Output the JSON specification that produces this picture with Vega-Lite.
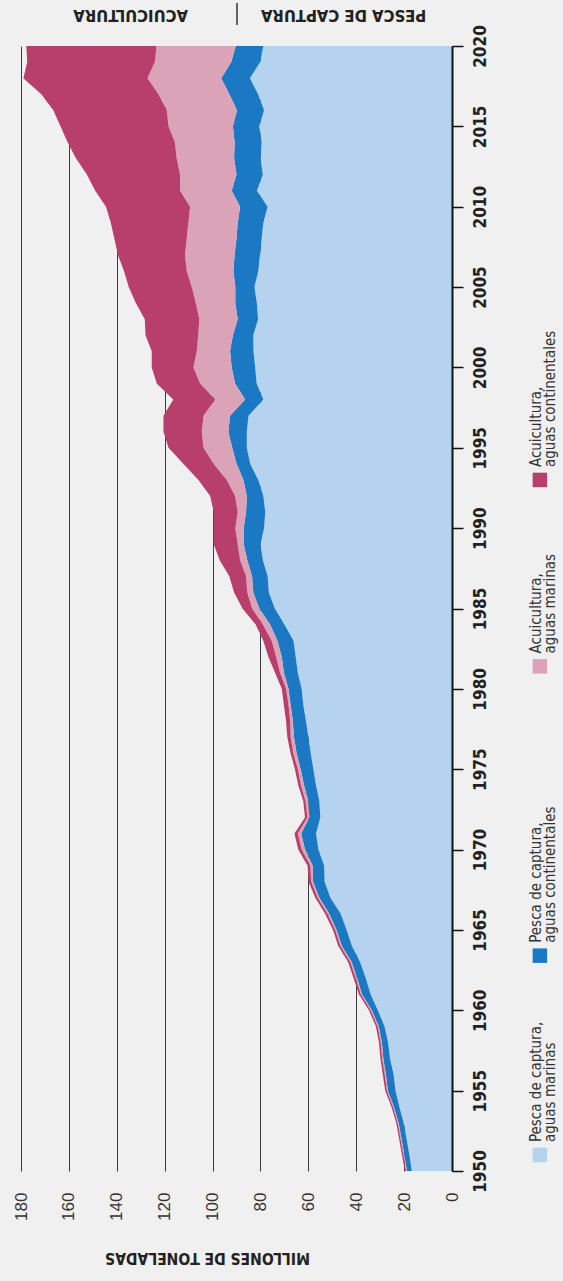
{
  "$schema": "https://vega.github.io/schema/vega-lite/v6.json",
  "width": 431,
  "height": 1125,
  "autosize": {"type": "none"},
  "padding": {"left": 21, "top": 46, "right": 111, "bottom": 110},
  "background": "#f0f0f0",
  "config": {"view": {"stroke": null}, "font": "DejaVu Sans Condensed, sans-serif"},
  "datasets": {
    "prod": [
      {"yr":1950,"s":"s1","v":16.8},{"yr":1950,"s":"s2","v":2.0},{"yr":1950,"s":"s3","v":0.4},{"yr":1950,"s":"s4","v":0.5},
      {"yr":1951,"s":"s1","v":17.8},{"yr":1951,"s":"s2","v":2.1},{"yr":1951,"s":"s3","v":0.4},{"yr":1951,"s":"s4","v":0.6},
      {"yr":1952,"s":"s1","v":19.0},{"yr":1952,"s":"s2","v":2.1},{"yr":1952,"s":"s3","v":0.4},{"yr":1952,"s":"s4","v":0.6},
      {"yr":1953,"s":"s1","v":20.2},{"yr":1953,"s":"s2","v":2.1},{"yr":1953,"s":"s3","v":0.4},{"yr":1953,"s":"s4","v":0.6},
      {"yr":1954,"s":"s1","v":22.0},{"yr":1954,"s":"s2","v":2.3},{"yr":1954,"s":"s3","v":0.4},{"yr":1954,"s":"s4","v":0.6},
      {"yr":1955,"s":"s1","v":23.6},{"yr":1955,"s":"s2","v":3.2},{"yr":1955,"s":"s3","v":0.4},{"yr":1955,"s":"s4","v":0.7},
      {"yr":1956,"s":"s1","v":24.4},{"yr":1956,"s":"s2","v":3.2},{"yr":1956,"s":"s3","v":0.5},{"yr":1956,"s":"s4","v":0.8},
      {"yr":1957,"s":"s1","v":25.9},{"yr":1957,"s":"s2","v":2.8},{"yr":1957,"s":"s3","v":0.5},{"yr":1957,"s":"s4","v":0.7},
      {"yr":1958,"s":"s1","v":26.7},{"yr":1958,"s":"s2","v":2.6},{"yr":1958,"s":"s3","v":0.5},{"yr":1958,"s":"s4","v":0.7},
      {"yr":1959,"s":"s1","v":28.2},{"yr":1959,"s":"s2","v":2.4},{"yr":1959,"s":"s3","v":0.5},{"yr":1959,"s":"s4","v":0.7},
      {"yr":1960,"s":"s1","v":31.0},{"yr":1960,"s":"s2","v":2.5},{"yr":1960,"s":"s3","v":0.5},{"yr":1960,"s":"s4","v":0.7},
      {"yr":1961,"s":"s1","v":34.0},{"yr":1961,"s":"s2","v":3.6},{"yr":1961,"s":"s3","v":0.5},{"yr":1961,"s":"s4","v":0.8},
      {"yr":1962,"s":"s1","v":36.0},{"yr":1962,"s":"s2","v":3.6},{"yr":1962,"s":"s3","v":0.6},{"yr":1962,"s":"s4","v":0.9},
      {"yr":1963,"s":"s1","v":38.4},{"yr":1963,"s":"s2","v":3.5},{"yr":1963,"s":"s3","v":0.6},{"yr":1963,"s":"s4","v":0.9},
      {"yr":1964,"s":"s1","v":41.8},{"yr":1964,"s":"s2","v":4.2},{"yr":1964,"s":"s3","v":0.6},{"yr":1964,"s":"s4","v":0.9},
      {"yr":1965,"s":"s1","v":44.0},{"yr":1965,"s":"s2","v":4.2},{"yr":1965,"s":"s3","v":0.6},{"yr":1965,"s":"s4","v":0.9},
      {"yr":1966,"s":"s1","v":46.5},{"yr":1966,"s":"s2","v":4.8},{"yr":1966,"s":"s3","v":0.7},{"yr":1966,"s":"s4","v":1.0},
      {"yr":1967,"s":"s1","v":50.8},{"yr":1967,"s":"s2","v":4.6},{"yr":1967,"s":"s3","v":0.7},{"yr":1967,"s":"s4","v":1.0},
      {"yr":1968,"s":"s1","v":53.2},{"yr":1968,"s":"s2","v":4.8},{"yr":1968,"s":"s3","v":0.8},{"yr":1968,"s":"s4","v":1.1},
      {"yr":1969,"s":"s1","v":53.4},{"yr":1969,"s":"s2","v":4.8},{"yr":1969,"s":"s3","v":1.0},{"yr":1969,"s":"s4","v":1.1},
      {"yr":1970,"s":"s1","v":55.8},{"yr":1970,"s":"s2","v":5.6},{"yr":1970,"s":"s3","v":1.4},{"yr":1970,"s":"s4","v":1.4},
      {"yr":1971,"s":"s1","v":56.8},{"yr":1971,"s":"s2","v":6.2},{"yr":1971,"s":"s3","v":1.4},{"yr":1971,"s":"s4","v":1.4},
      {"yr":1972,"s":"s1","v":55.0},{"yr":1972,"s":"s2","v":4.6},{"yr":1972,"s":"s3","v":0.8},{"yr":1972,"s":"s4","v":1.0},
      {"yr":1973,"s":"s1","v":55.4},{"yr":1973,"s":"s2","v":4.6},{"yr":1973,"s":"s3","v":1.2},{"yr":1973,"s":"s4","v":0.9},
      {"yr":1974,"s":"s1","v":56.8},{"yr":1974,"s":"s2","v":5.0},{"yr":1974,"s":"s3","v":1.3},{"yr":1974,"s":"s4","v":1.1},
      {"yr":1975,"s":"s1","v":57.9},{"yr":1975,"s":"s2","v":5.3},{"yr":1975,"s":"s3","v":1.2},{"yr":1975,"s":"s4","v":1.2},
      {"yr":1976,"s":"s1","v":59.0},{"yr":1976,"s":"s2","v":5.9},{"yr":1976,"s":"s3","v":1.4},{"yr":1976,"s":"s4","v":1.1},
      {"yr":1977,"s":"s1","v":60.0},{"yr":1977,"s":"s2","v":6.0},{"yr":1977,"s":"s3","v":1.4},{"yr":1977,"s":"s4","v":1.4},
      {"yr":1978,"s":"s1","v":61.0},{"yr":1978,"s":"s2","v":5.5},{"yr":1978,"s":"s3","v":1.1},{"yr":1978,"s":"s4","v":1.7},
      {"yr":1979,"s":"s1","v":62.1},{"yr":1979,"s":"s2","v":5.3},{"yr":1979,"s":"s3","v":0.9},{"yr":1979,"s":"s4","v":1.9},
      {"yr":1980,"s":"s1","v":62.8},{"yr":1980,"s":"s2","v":5.5},{"yr":1980,"s":"s3","v":1.0},{"yr":1980,"s":"s4","v":1.8},
      {"yr":1981,"s":"s1","v":64.4},{"yr":1981,"s":"s2","v":5.8},{"yr":1981,"s":"s3","v":1.6},{"yr":1981,"s":"s4","v":2.1},
      {"yr":1982,"s":"s1","v":65.3},{"yr":1982,"s":"s2","v":5.8},{"yr":1982,"s":"s3","v":2.4},{"yr":1982,"s":"s4","v":3.2},
      {"yr":1983,"s":"s1","v":66.2},{"yr":1983,"s":"s2","v":6.7},{"yr":1983,"s":"s3","v":2.4},{"yr":1983,"s":"s4","v":3.5},
      {"yr":1984,"s":"s1","v":70.0},{"yr":1984,"s":"s2","v":6.0},{"yr":1984,"s":"s3","v":3.0},{"yr":1984,"s":"s4","v":3.0},
      {"yr":1985,"s":"s1","v":74.0},{"yr":1985,"s":"s2","v":6.5},{"yr":1985,"s":"s3","v":3.0},{"yr":1985,"s":"s4","v":4.0},
      {"yr":1986,"s":"s1","v":76.5},{"yr":1986,"s":"s2","v":6.5},{"yr":1986,"s":"s3","v":2.5},{"yr":1986,"s":"s4","v":5.5},
      {"yr":1987,"s":"s1","v":77.0},{"yr":1987,"s":"s2","v":6.5},{"yr":1987,"s":"s3","v":2.5},{"yr":1987,"s":"s4","v":7.0},
      {"yr":1988,"s":"s1","v":79.0},{"yr":1988,"s":"s2","v":6.5},{"yr":1988,"s":"s3","v":3.0},{"yr":1988,"s":"s4","v":8.5},
      {"yr":1989,"s":"s1","v":80.0},{"yr":1989,"s":"s2","v":7.0},{"yr":1989,"s":"s3","v":2.5},{"yr":1989,"s":"s4","v":10.0},
      {"yr":1990,"s":"s1","v":78.5},{"yr":1990,"s":"s2","v":8.5},{"yr":1990,"s":"s3","v":3.5},{"yr":1990,"s":"s4","v":9.0},
      {"yr":1991,"s":"s1","v":78.0},{"yr":1991,"s":"s2","v":8.0},{"yr":1991,"s":"s3","v":3.5},{"yr":1991,"s":"s4","v":10.0},
      {"yr":1992,"s":"s1","v":78.8},{"yr":1992,"s":"s2","v":6.9},{"yr":1992,"s":"s3","v":4.9},{"yr":1992,"s":"s4","v":10.4},
      {"yr":1993,"s":"s1","v":80.9},{"yr":1993,"s":"s2","v":6.2},{"yr":1993,"s":"s3","v":7.0},{"yr":1993,"s":"s4","v":11.8},
      {"yr":1994,"s":"s1","v":84.3},{"yr":1994,"s":"s2","v":5.7},{"yr":1994,"s":"s3","v":9.6},{"yr":1994,"s":"s4","v":12.6},
      {"yr":1995,"s":"s1","v":85.7},{"yr":1995,"s":"s2","v":6.1},{"yr":1995,"s":"s3","v":12.0},{"yr":1995,"s":"s4","v":14.6},
      {"yr":1996,"s":"s1","v":85.7},{"yr":1996,"s":"s2","v":7.7},{"yr":1996,"s":"s3","v":11.1},{"yr":1996,"s":"s4","v":16.0},
      {"yr":1997,"s":"s1","v":85.0},{"yr":1997,"s":"s2","v":7.7},{"yr":1997,"s":"s3","v":11.1},{"yr":1997,"s":"s4","v":16.7},
      {"yr":1998,"s":"s1","v":78.8},{"yr":1998,"s":"s2","v":7.6},{"yr":1998,"s":"s3","v":12.5},{"yr":1998,"s":"s4","v":17.5},
      {"yr":1999,"s":"s1","v":81.6},{"yr":1999,"s":"s2","v":9.0},{"yr":1999,"s":"s3","v":14.6},{"yr":1999,"s":"s4","v":18.1},
      {"yr":2000,"s":"s1","v":82.2},{"yr":2000,"s":"s2","v":9.8},{"yr":2000,"s":"s3","v":16.0},{"yr":2000,"s":"s4","v":17.4},
      {"yr":2001,"s":"s1","v":82.9},{"yr":2001,"s":"s2","v":9.8},{"yr":2001,"s":"s3","v":13.9},{"yr":2001,"s":"s4","v":18.8},
      {"yr":2002,"s":"s1","v":83.0},{"yr":2002,"s":"s2","v":8.5},{"yr":2002,"s":"s3","v":14.5},{"yr":2002,"s":"s4","v":22.0},
      {"yr":2003,"s":"s1","v":81.0},{"yr":2003,"s":"s2","v":8.5},{"yr":2003,"s":"s3","v":16.0},{"yr":2003,"s":"s4","v":22.8},
      {"yr":2004,"s":"s1","v":81.5},{"yr":2004,"s":"s2","v":9.0},{"yr":2004,"s":"s3","v":16.5},{"yr":2004,"s":"s4","v":25.0},
      {"yr":2005,"s":"s1","v":82.5},{"yr":2005,"s":"s2","v":8.0},{"yr":2005,"s":"s3","v":18.2},{"yr":2005,"s":"s4","v":26.3},
      {"yr":2006,"s":"s1","v":80.9},{"yr":2006,"s":"s2","v":10.4},{"yr":2006,"s":"s3","v":19.5},{"yr":2006,"s":"s4","v":26.2},
      {"yr":2007,"s":"s1","v":80.2},{"yr":2007,"s":"s2","v":10.6},{"yr":2007,"s":"s3","v":20.7},{"yr":2007,"s":"s4","v":28.0},
      {"yr":2008,"s":"s1","v":79.5},{"yr":2008,"s":"s2","v":10.5},{"yr":2008,"s":"s3","v":20.8},{"yr":2008,"s":"s4","v":30.2},
      {"yr":2009,"s":"s1","v":78.8},{"yr":2009,"s":"s2","v":10.7},{"yr":2009,"s":"s3","v":20.6},{"yr":2009,"s":"s4","v":32.4},
      {"yr":2010,"s":"s1","v":77.0},{"yr":2010,"s":"s2","v":11.5},{"yr":2010,"s":"s3","v":20.9},{"yr":2010,"s":"s4","v":35.1},
      {"yr":2011,"s":"s1","v":81.5},{"yr":2011,"s":"s2","v":10.5},{"yr":2011,"s":"s3","v":21.6},{"yr":2011,"s":"s4","v":35.4},
      {"yr":2012,"s":"s1","v":79.0},{"yr":2012,"s":"s2","v":11.0},{"yr":2012,"s":"s3","v":23.6},{"yr":2012,"s":"s4","v":38.9},
      {"yr":2013,"s":"s1","v":80.0},{"yr":2013,"s":"s2","v":11.0},{"yr":2013,"s":"s3","v":24.0},{"yr":2013,"s":"s4","v":42.0},
      {"yr":2014,"s":"s1","v":79.5},{"yr":2014,"s":"s2","v":11.3},{"yr":2014,"s":"s3","v":24.9},{"yr":2014,"s":"s4","v":44.8},
      {"yr":2015,"s":"s1","v":80.5},{"yr":2015,"s":"s2","v":11.0},{"yr":2015,"s":"s3","v":26.9},{"yr":2015,"s":"s4","v":45.1},
      {"yr":2016,"s":"s1","v":78.5},{"yr":2016,"s":"s2","v":11.3},{"yr":2016,"s":"s3","v":29.3},{"yr":2016,"s":"s4","v":47.4},
      {"yr":2017,"s":"s1","v":81.0},{"yr":2017,"s":"s2","v":12.0},{"yr":2017,"s":"s3","v":29.6},{"yr":2017,"s":"s4","v":48.9},
      {"yr":2018,"s":"s1","v":84.4},{"yr":2018,"s":"s2","v":12.0},{"yr":2018,"s":"s3","v":30.8},{"yr":2018,"s":"s4","v":51.8},
      {"yr":2019,"s":"s1","v":80.1},{"yr":2019,"s":"s2","v":12.1},{"yr":2019,"s":"s3","v":31.9},{"yr":2019,"s":"s4","v":53.3},
      {"yr":2020,"s":"s1","v":78.8},{"yr":2020,"s":"s2","v":11.5},{"yr":2020,"s":"s3","v":33.1},{"yr":2020,"s":"s4","v":54.4}
    ],
    "heads": [
      {"v": 45.3, "yr": 2021.95, "t": "PESCA DE CAPTURA"},
      {"v": 134.2, "yr": 2021.95, "t": "ACUICULTURA"}
    ],
    "sep": [
      {"v": 89.8, "yr": 2021.31, "yr2": 2022.68}
    ],
    "keys": [
      {"v": -36.7, "yr": 1951.0, "s": "s1"},
      {"v": -36.7, "yr": 1963.4, "s": "s2"},
      {"v": -36.7, "yr": 1981.4, "s": "s3"},
      {"v": -36.7, "yr": 1993.0, "s": "s4"}
    ],
    "keytext": [
      {"v": -35.0, "yr": 1951.8, "t": "Pesca de captura,"},
      {"v": -41.0, "yr": 1951.8, "t": "aguas marinas"},
      {"v": -35.0, "yr": 1964.2, "t": "Pesca de captura,"},
      {"v": -41.0, "yr": 1964.2, "t": "aguas continentales"},
      {"v": -35.0, "yr": 1982.2, "t": "Acuicultura,"},
      {"v": -41.0, "yr": 1982.2, "t": "aguas marinas"},
      {"v": -35.0, "yr": 1993.8, "t": "Acuicultura,"},
      {"v": -41.0, "yr": 1993.8, "t": "aguas continentales"}
    ]
  },
  "layer": [
    {
      "data": {"name": "prod"},
      "mark": {"type": "area", "orient": "horizontal", "interpolate": "linear"},
      "encoding": {
        "y": {
          "field": "yr", "type": "quantitative",
          "scale": {"domain": [1950, 2020], "nice": false, "zero": false},
          "axis": {
            "orient": "right", "values": [1950,1955,1960,1965,1970,1975,1980,1985,1990,1995,2000,2005,2010,2015,2020],
            "format": "d", "title": null, "grid": false, "zindex": 1,
            "labelAngle": -90, "labelAlign": "center", "labelBaseline": "top", "labelPadding": 9,
            "labelFontSize": 17, "labelFontWeight": "bold", "labelColor": "#222",
            "labelFont": "DejaVu Sans Condensed, sans-serif",
            "labelOverlap": false, "labelFlush": false,
            "tickSize": 11, "tickColor": "#111", "tickWidth": 1.5,
            "domainColor": "#111", "domainWidth": 2
          }
        },
        "x": {
          "field": "v", "type": "quantitative", "stack": "zero",
          "scale": {"domain": [0, 180], "reverse": true, "nice": false},
          "axis": {
            "orient": "bottom", "values": [0,20,40,60,80,100,120,140,160,180],
            "grid": true, "gridColor": "#3c3c3c", "gridWidth": 1,
            "ticks": false, "domain": false,
            "labelAngle": -90, "labelAlign": "right", "labelBaseline": "middle", "labelPadding": 21,
            "labelFontSize": 17, "labelColor": "#333", "labelFont": "Liberation Sans, Arial, sans-serif",
            "labelOverlap": false, "labelFlush": false,
            "title": "MILLONES DE TONELADAS", "titleAngle": 180, "titleX": 186, "titleY": 86,
            "titleAlign": "center", "titleBaseline": "middle", "titleFontSize": 15.5, "titleFontWeight": "bold",
            "titleColor": "#222", "titleFont": "DejaVu Sans Condensed, sans-serif"
          }
        },
        "color": {
          "field": "s", "type": "nominal",
          "scale": {"domain": ["s1", "s2", "s3", "s4"], "range": ["#b5d2ef", "#1b79c3", "#dba3b8", "#b83e6c"]},
          "legend": null
        }
      }
    },
    {
      "data": {"name": "sep"},
      "mark": {"type": "rule", "color": "#333", "strokeWidth": 1.5},
      "encoding": {
        "x": {"field": "v", "type": "quantitative"},
        "y": {"field": "yr", "type": "quantitative"},
        "y2": {"field": "yr2"}
      }
    },
    {
      "data": {"name": "heads"},
      "mark": {"type": "text", "angle": 180, "align": "center", "baseline": "middle", "fontSize": 16.5, "fontWeight": "bold", "color": "#222", "font": "DejaVu Sans Condensed, sans-serif"},
      "encoding": {
        "x": {"field": "v", "type": "quantitative"},
        "y": {"field": "yr", "type": "quantitative"},
        "text": {"field": "t"}
      }
    },
    {
      "data": {"name": "keys"},
      "mark": {"type": "square", "size": 210, "opacity": 1, "filled": true},
      "encoding": {
        "x": {"field": "v", "type": "quantitative"},
        "y": {"field": "yr", "type": "quantitative"},
        "color": {"field": "s", "type": "nominal", "legend": null}
      }
    },
    {
      "data": {"name": "keytext"},
      "mark": {"type": "text", "angle": -90, "align": "left", "baseline": "middle", "fontSize": 15, "color": "#333", "font": "DejaVu Sans Condensed, sans-serif"},
      "encoding": {
        "x": {"field": "v", "type": "quantitative"},
        "y": {"field": "yr", "type": "quantitative"},
        "text": {"field": "t"}
      }
    }
  ]
}
